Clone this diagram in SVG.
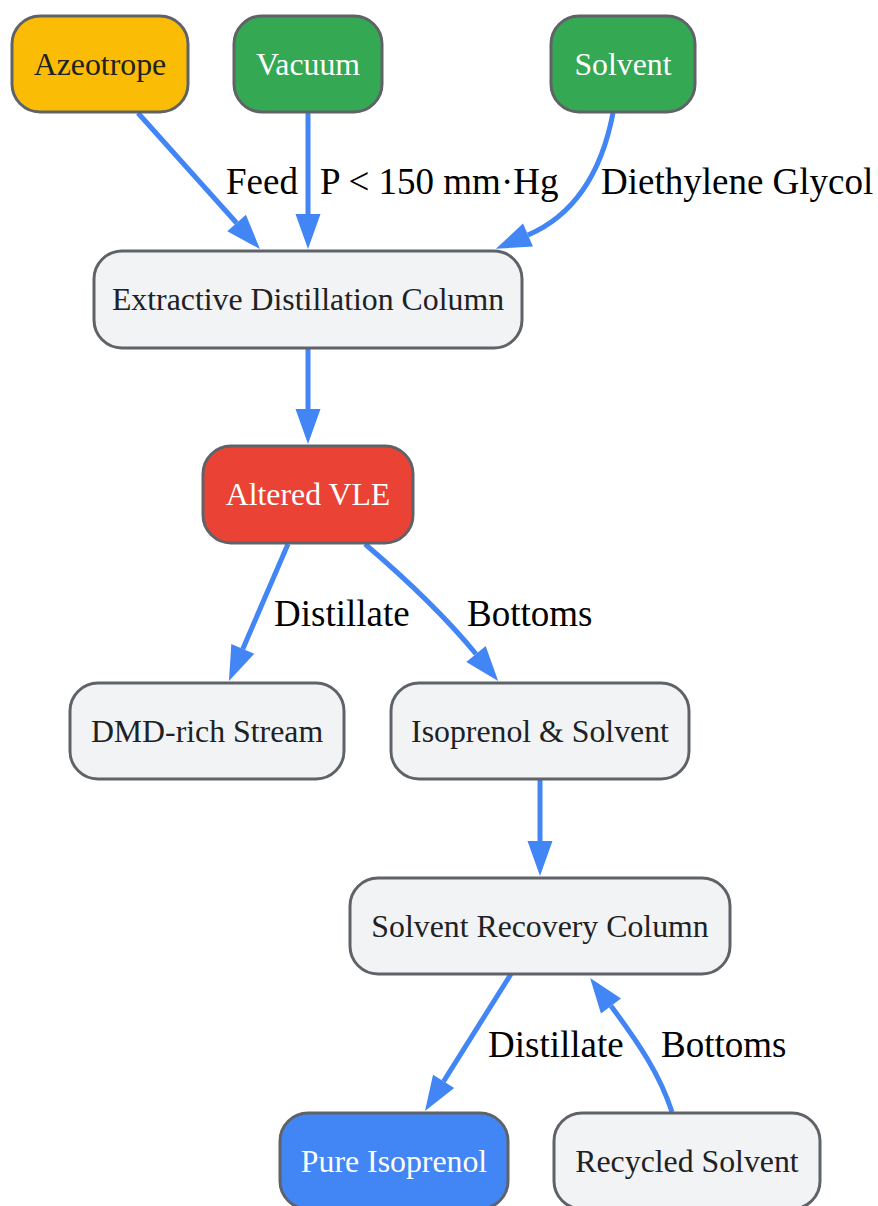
<svg xmlns="http://www.w3.org/2000/svg" width="878" height="1206" viewBox="0 0 878 1206">
<style>
.n{stroke:#5F6368;stroke-width:3}
.g{fill:#F1F3F4}
.t{font-family:"Liberation Serif","Times New Roman",serif;font-size:31.8px;text-anchor:middle;fill:#202124}
.w{fill:#FFFFFF}
.e{fill:none;stroke:#4285F4;stroke-width:5}
.l{font-family:"Liberation Serif","Times New Roman",serif;font-size:37px;fill:#000000}
</style>
<defs>
<marker id="ah" markerUnits="userSpaceOnUse" markerWidth="36" markerHeight="26" refX="0" refY="12.5" orient="auto" overflow="visible">
<path d="M0,0 L35,12.5 L0,25 Z" fill="#4285F4"/>
</marker>
</defs>
<rect width="878" height="1206" fill="#FFFFFF"/>
<g id="connectors">
<path class="e" d="M138,113 L236.6,223" marker-end="url(#ah)"/>
<path class="e" d="M308,112 L308,214" marker-end="url(#ah)"/>
<path class="e" d="M613,113 C603,165 579,213 528,235" marker-end="url(#ah)"/>
<path class="e" d="M308,348 L308,409" marker-end="url(#ah)"/>
<path class="e" d="M288,544 L242.8,648.9" marker-end="url(#ah)"/>
<path class="e" d="M365,544 C400,574 440,610 476,654" marker-end="url(#ah)"/>
<path class="e" d="M540,779 L540,841" marker-end="url(#ah)"/>
<path class="e" d="M511,974 L443.6,1081.3" marker-end="url(#ah)"/>
<path class="e" d="M672,1112 C660,1075 640,1045 611,1006" marker-end="url(#ah)"/>
<text class="l" x="226" y="194">Feed</text>
<text class="l" x="320" y="194">P &lt; 150 mm·Hg</text>
<text class="l" x="601" y="194">Diethylene Glycol</text>
<text class="l" x="274" y="626">Distillate</text>
<text class="l" x="467" y="626">Bottoms</text>
<text class="l" x="488" y="1057">Distillate</text>
<text class="l" x="661" y="1057">Bottoms</text>
</g>
<g id="azeotrope"><rect class="n" x="12" y="16" width="176" height="96" rx="28" fill="#FBBC05"/><text class="t" x="100" y="75">Azeotrope</text></g>
<g id="vacuum"><rect class="n" x="234" y="16" width="148" height="96" rx="28" fill="#34A853"/><text class="t w" x="308" y="75">Vacuum</text></g>
<g id="solvent"><rect class="n" x="551" y="16" width="144" height="96" rx="28" fill="#34A853"/><text class="t w" x="623" y="75">Solvent</text></g>
<g id="extractive"><rect class="n g" x="94" y="251" width="428" height="97" rx="28"/><text class="t" x="308" y="310">Extractive Distillation Column</text></g>
<g id="altered"><rect class="n" x="203" y="446" width="210" height="97" rx="28" fill="#EA4335"/><text class="t w" x="308" y="505">Altered VLE</text></g>
<g id="dmd"><rect class="n g" x="70" y="683" width="274" height="96" rx="28"/><text class="t" x="207" y="742">DMD-rich Stream</text></g>
<g id="isosolv"><rect class="n g" x="391" y="683" width="298" height="96" rx="28"/><text class="t" x="540" y="742">Isoprenol &amp; Solvent</text></g>
<g id="recovery"><rect class="n g" x="350" y="878" width="380" height="96" rx="28"/><text class="t" x="540" y="937">Solvent Recovery Column</text></g>
<g id="pure"><rect class="n" x="280" y="1113" width="228" height="96" rx="28" fill="#4285F4"/><text class="t w" x="394" y="1172">Pure Isoprenol</text></g>
<g id="recycled"><rect class="n g" x="554" y="1113" width="266" height="96" rx="28"/><text class="t" x="687" y="1172">Recycled Solvent</text></g>
</svg>
